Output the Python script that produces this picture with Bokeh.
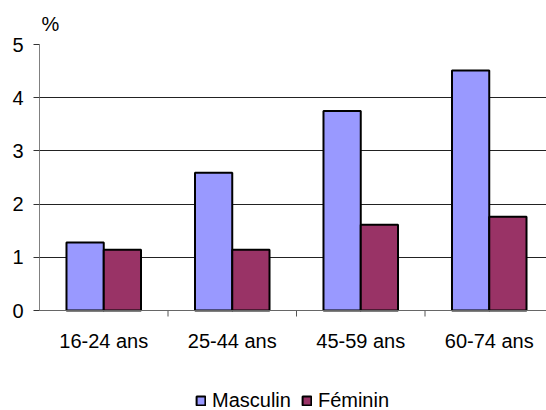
from bokeh.plotting import figure
from bokeh.models import Range1d, FixedTicker, Legend, LegendItem, ColumnDataSource, Span
from bokeh.core.properties import value
from bokeh.embed import file_html
from bokeh.resources import INLINE

categories = ["16-24 ans", "25-44 ans", "45-59 ans", "60-74 ans"]
masculin = [1.28, 2.59, 3.75, 4.51]
feminin = [1.14, 1.14, 1.61, 1.76]
y_ticks = [0, 1, 2, 3, 4, 5]

FONT = "Liberation Sans"
FS = "20px"
PX = 53.2  # pixels per unit on y

centers = [i + 0.5 for i in range(len(categories))]
boundaries = [1, 2, 3]
src = ColumnDataSource(dict(
    xm=[c - 0.145 for c in centers],
    xf=[c + 0.145 for c in centers],
    m=masculin, f=feminin,
))

p = figure(width=546, height=410, output_backend="svg", toolbar_location=None,
           x_range=Range1d(0, 507 / 128.5), y_range=Range1d(-100 / PX, 5),
           x_axis_location=None,
           min_border_left=39, min_border_right=0, min_border_top=44, min_border_bottom=0)
p.outline_line_color = None
p.background_fill_color = "white"
p.border_fill_color = "white"

# y axis
p.yaxis.ticker = FixedTicker(ticks=y_ticks)
p.yaxis.bounds = (0, 5)
p.yaxis.major_tick_out = 6
p.yaxis.major_tick_in = 0
p.yaxis.minor_tick_line_color = None
p.yaxis.axis_line_color = "#808080"
p.yaxis.major_tick_line_color = "#333333"
p.yaxis.major_label_standoff = 10
p.yaxis.major_label_text_font = FONT
p.yaxis.major_label_text_font_size = FS
p.yaxis.major_label_text_color = "black"
p.ygrid.grid_line_color = "#222222"
p.ygrid.grid_line_width = 1
p.xgrid.grid_line_color = None

rm = p.vbar(x="xm", top="m", width=0.29, source=src, fill_color="#9999FF",
            line_color="black", line_width=2)
rf = p.vbar(x="xf", top="f", width=0.29, source=src, fill_color="#993366",
            line_color="black", line_width=2)

# category axis drawn at y = 0
p.add_layout(Span(location=0, dimension="width", line_color="#666666", line_width=1))
p.segment(x0=boundaries, y0=[0] * 3, x1=boundaries, y1=[-6 / PX] * 3,
          line_color="#555555", line_width=1)
p.text(x=centers, y=[-19 / PX] * 4, text=categories, text_align="center",
       text_baseline="top", text_font=value(FONT), text_font_size=value(FS),
       text_color="black")

p.title.text = "%"
p.title.align = "left"
p.title.text_font = FONT
p.title.text_font_size = FS
p.title.text_font_style = "normal"
p.title.text_color = "black"
p.title.offset = 2
p.title.standoff = 20

legend = Legend(items=[LegendItem(label="Masculin", renderers=[rm]),
                       LegendItem(label="Féminin", renderers=[rf])],
                orientation="horizontal", location=(156, -2))
legend.label_text_font = FONT
legend.label_text_font_size = FS
legend.label_text_color = "black"
legend.glyph_width = 11
legend.glyph_height = 11
legend.label_standoff = 6
legend.spacing = 10
legend.border_line_color = None
legend.background_fill_alpha = 0
legend.padding = 0
legend.margin = 0
p.add_layout(legend)

open("out.html", "w").write(file_html(p, INLINE))
